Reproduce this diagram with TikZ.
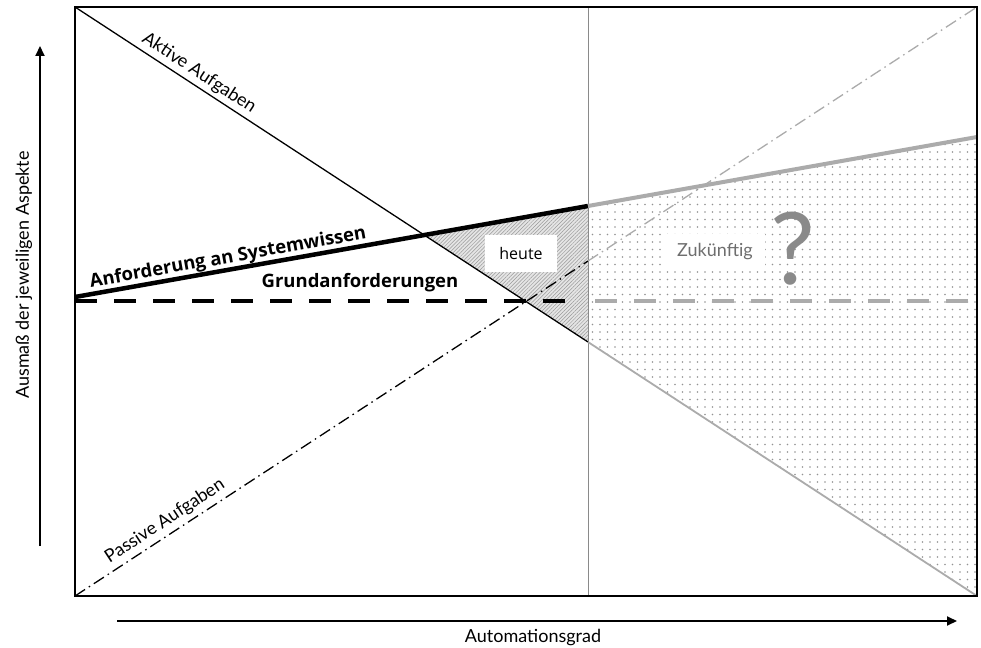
\documentclass[tikz,border=0pt]{standalone}
\usepackage{fontspec}
\setmainfont{Lato}
\newfontfamily\opensans{Open Sans}
\usetikzlibrary{patterns.meta,arrows.meta}
\definecolor{lgray}{HTML}{ABABAB}
\definecolor{mgray}{HTML}{8A8A8A}
\definecolor{tgray}{HTML}{6E6E6E}
\tikzset{
  lbl/.style={font=\fontsize{18}{20}\selectfont, inner sep=2pt},
  boldlbl/.style={font=\opensans\bfseries\fontsize{18.5}{20}\selectfont, inner sep=2pt},
  dashdot/.style={line width=1.3pt, dash pattern=on 12pt off 4.5pt on 1.5pt off 4.5pt},
  bigdash/.style={line width=4.5pt, dash pattern=on 22pt off 17pt},
  whitebox/.style={fill=white, inner sep=0pt, minimum height=37pt},
}
\begin{document}
\begin{tikzpicture}[x=1pt,y=-1pt]
\useasboundingbox (0,0) rectangle (981,647);
% coordinates
\coordinate (TL) at (75,7);
\coordinate (TR) at (977,7);
\coordinate (BL) at (75,596);
\coordinate (BR) at (977,596);
\coordinate (VT) at (588,7);
\coordinate (VB) at (588,596);
\coordinate (AM) at (588,342);
\coordinate (PM) at (588,261);
\coordinate (S0) at (75,297);
\coordinate (S1) at (588,206);
\coordinate (S2) at (977,137);
\coordinate (X) at (intersection of TL--BR and S0--S1);
% future dotted region
\path[pattern={Dots[distance=7.5pt, radius=0.85pt]}, pattern color=gray!85] (S1) -- (S2) -- (BR) -- (AM) -- cycle;
% today hatched triangle
\fill[gray!20] (X) -- (S1) -- (AM) -- cycle;
\path[pattern={Lines[angle=45, distance=2.6pt, line width=0.5pt]}, pattern color=gray!80] (X) -- (S1) -- (AM) -- cycle;
% white boxes
\node[whitebox, minimum width=72pt] (heute) at (521,253) {};
\node[whitebox, minimum width=99pt] (zuk) at (715,252) {};
\node[font=\opensans\fontsize{16}{18}\selectfont] at (heute) {heute};
\node[lbl, text=tgray] at (zuk) {Zukünftig};
\node[font=\fontsize{100}{102}\selectfont, text=mgray, inner sep=0pt] (q) at (793,249) {?};
% vertical divider
\draw[line width=0.9pt, mgray] (VT) -- (VB);
% active tasks
\draw[line width=1.3pt] (TL) -- (AM);
\draw[line width=1.8pt, lgray] (AM) -- (BR);
% passive tasks
\draw[dashdot] (BL) -- (PM);
\draw[dashdot, lgray] (PM) -- (TR);
% system knowledge requirement
\draw[line width=4.5pt] (S0) -- (S1);
\draw[line width=4pt, lgray] (S1) -- (S2);
% basic requirements
\coordinate (G0) at (75,301);
\coordinate (G1) at (572,301);
\coordinate (G2) at (595,301);
\coordinate (G3) at (977,301);
\draw[bigdash] (G0) -- (G1);
\draw[bigdash, lgray] (G2) -- (G3);
% frame
\draw[line width=2.4pt] (TL) rectangle (BR);
% labels on lines
\path (TL) -- (BR) node[lbl, inner sep=4pt, pos=0.13, sloped, above] {Aktive Aufgaben};
\path (BL) -- (TR) node[lbl, inner sep=5pt, pos=0.108, sloped, above] {Passive Aufgaben};
\path (S0) -- (S2) node[boldlbl, pos=0.172, sloped, above] {Anforderung an Systemwissen};
\node[boldlbl, anchor=south] (grund) at (360,294) {Grundanforderungen};
% axes
\coordinate (YA) at (40,546);
\coordinate (YB) at (40,46);
\draw[line width=1.8pt, -{Triangle[length=10pt, width=9pt]}] (YA) -- (YB);
\node[lbl, rotate=90] (ylabel) at (24,275) {Ausmaß der jeweiligen Aspekte};
\coordinate (XA) at (117,621);
\coordinate (XB) at (957,621);
\draw[line width=1.8pt, -{Triangle[length=10pt, width=9pt]}] (XA) -- (XB);
\node[lbl] (xlabel) at (533,638) {Automationsgrad};
\end{tikzpicture}
\end{document}
